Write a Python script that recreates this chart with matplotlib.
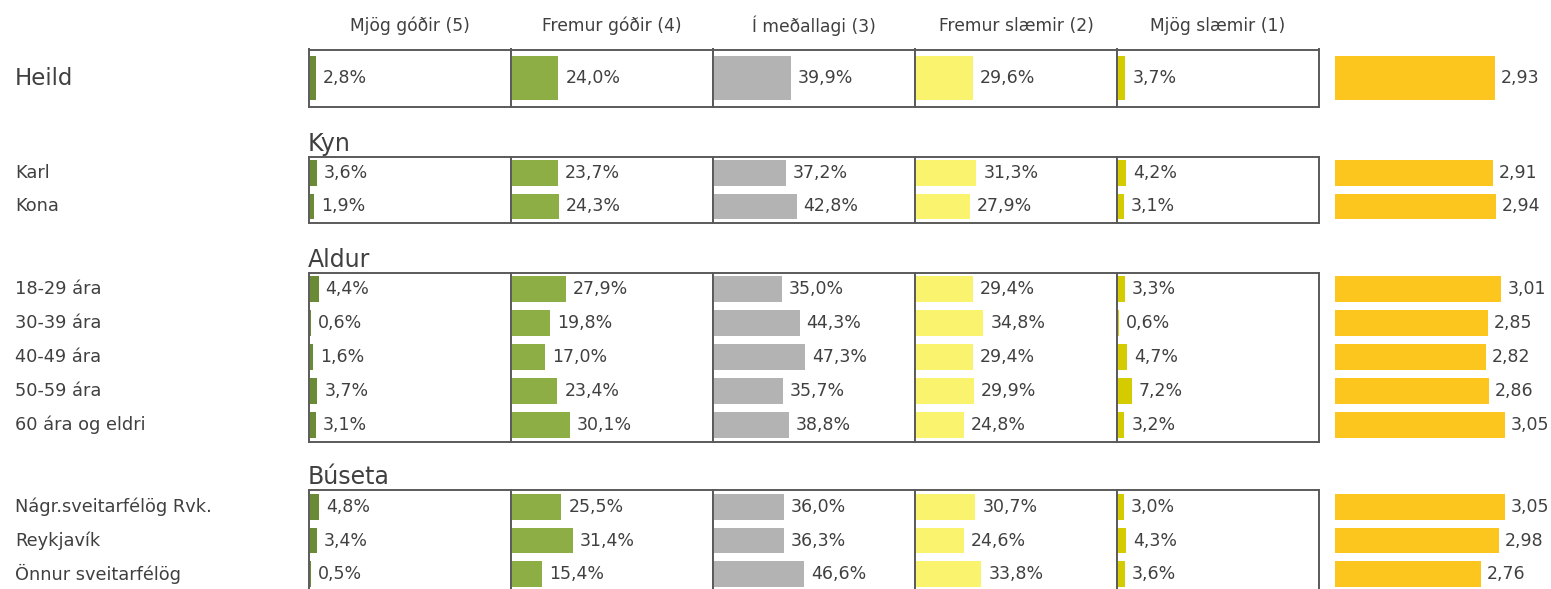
import matplotlib
matplotlib.use("Agg")
import matplotlib.pyplot as plt
from matplotlib import transforms

# ---------------- data ----------------
columns = ["Mjög góðir (5)", "Fremur góðir (4)", "Í meðallagi (3)",
           "Fremur slæmir (2)", "Mjög slæmir (1)"]

heild_labels = ["Heild"]
heild_pct = [[2.8, 24.0, 39.9, 29.6, 3.7]]
heild_mean = [2.93]

kyn_labels = ["Karl", "Kona"]
kyn_pct = [[3.6, 23.7, 37.2, 31.3, 4.2],
           [1.9, 24.3, 42.8, 27.9, 3.1]]
kyn_mean = [2.91, 2.94]

aldur_labels = ["18-29 ára", "30-39 ára", "40-49 ára", "50-59 ára", "60 ára og eldri"]
aldur_pct = [[4.4, 27.9, 35.0, 29.4, 3.3],
             [0.6, 19.8, 44.3, 34.8, 0.6],
             [1.6, 17.0, 47.3, 29.4, 4.7],
             [3.7, 23.4, 35.7, 29.9, 7.2],
             [3.1, 30.1, 38.8, 24.8, 3.2]]
aldur_mean = [3.01, 2.85, 2.82, 2.86, 3.05]

buseta_labels = ["Nágr.sveitarfélög Rvk.", "Reykjavík", "Önnur sveitarfélög"]
buseta_pct = [[4.8, 25.5, 36.0, 30.7, 3.0],
              [3.4, 31.4, 36.3, 24.6, 4.3],
              [0.5, 15.4, 46.6, 33.8, 3.6]]
buseta_mean = [3.05, 2.98, 2.76]

group_titles = ["", "Kyn", "Aldur", "Búseta"]

# ---------------- style / layout ----------------
W, H = 1551, 589
col_colors = ["#6b8a35", "#8cae44", "#b3b3b3", "#f9f36e", "#d4cc00"]
mean_color = "#fcc61f"
txt = "#404040"
edge = "#5a5a5a"
plt.rcParams["font.family"] = ["DejaVu Sans"]

panel_left = [309, 511, 713, 915, 1117]
panel_w = 202
mean_left, mean_w = 1335, 216
# (top, bottom) pixel extents of each group box
group_boxes = [(49.5, 107), (156.5, 223), (272.5, 441.5), (490, 591)]

groups = [
    (heild_labels, heild_pct, heild_mean),
    (kyn_labels, kyn_pct, kyn_mean),
    (aldur_labels, aldur_pct, aldur_mean),
    (buseta_labels, buseta_pct, buseta_mean),
]

fig = plt.figure(figsize=(W / 100, H / 100), dpi=100)
fig.patch.set_facecolor("white")


def add_ax(x, w, top, bottom):
    return fig.add_axes([x / W, 1 - bottom / H, w / W, (bottom - top) / H])


def fmt(v, dec=1):
    return f"{v:.{dec}f}".replace(".", ",")


# column headers
for c, name in enumerate(columns):
    fig.text((panel_left[c] + panel_w / 2) / W, 1 - 26 / H, name,
             ha="center", va="center", fontsize=12.3, color=txt)

for g, (labels, pct, means) in enumerate(groups):
    top, bottom = group_boxes[g]
    n = len(labels)
    ys = list(range(n))
    first_ax = None
    for c in range(5):
        ax = add_ax(panel_left[c], panel_w, top, bottom)
        vals = [row[c] for row in pct]
        ax.barh(ys, vals, height=0.77, color=col_colors[c])
        ax.set_xlim(-0.6, 104.2)
        ax.set_ylim(n - 0.5, -0.5)
        ax.set_xticks([])
        ax.set_yticks([])
        for s in ax.spines.values():
            s.set_color(edge)
            s.set_linewidth(1.4)
        for y, v in zip(ys, vals):
            ax.annotate(fmt(v) + "%", xy=(v, y), xytext=(7, 0),
                        textcoords="offset pixels", ha="left", va="center",
                        fontsize=12.5, color=txt)
        if c == 0:
            first_ax = ax
    # mean column
    axm = add_ax(mean_left, mean_w, top, bottom)
    axm.barh(ys, means, height=0.77, color=mean_color)
    axm.set_xlim(1, 1 + mean_w / 82.8)
    axm.set_ylim(n - 0.5, -0.5)
    axm.axis("off")
    for y, v in zip(ys, means):
        axm.annotate(fmt(v, 2), xy=(v, y), xytext=(6, 0),
                     textcoords="offset pixels", ha="left", va="center",
                     fontsize=12.5, color=txt, annotation_clip=False)
    # row labels
    tr = transforms.blended_transform_factory(fig.transFigure, first_ax.transData)
    for y, lab in zip(ys, labels):
        size = 16.5 if g == 0 else 12.8
        first_ax.text(15 / W, y, lab, transform=tr, ha="left", va="center",
                      fontsize=size, color=txt, clip_on=False)
    # group heading
    if group_titles[g]:
        first_ax.annotate(group_titles[g], xy=(0, 1), xycoords="axes fraction",
                          xytext=(-1, 6), textcoords="offset pixels",
                          ha="left", va="baseline", fontsize=17, color=txt)

fig.savefig("out.png", dpi=100)
